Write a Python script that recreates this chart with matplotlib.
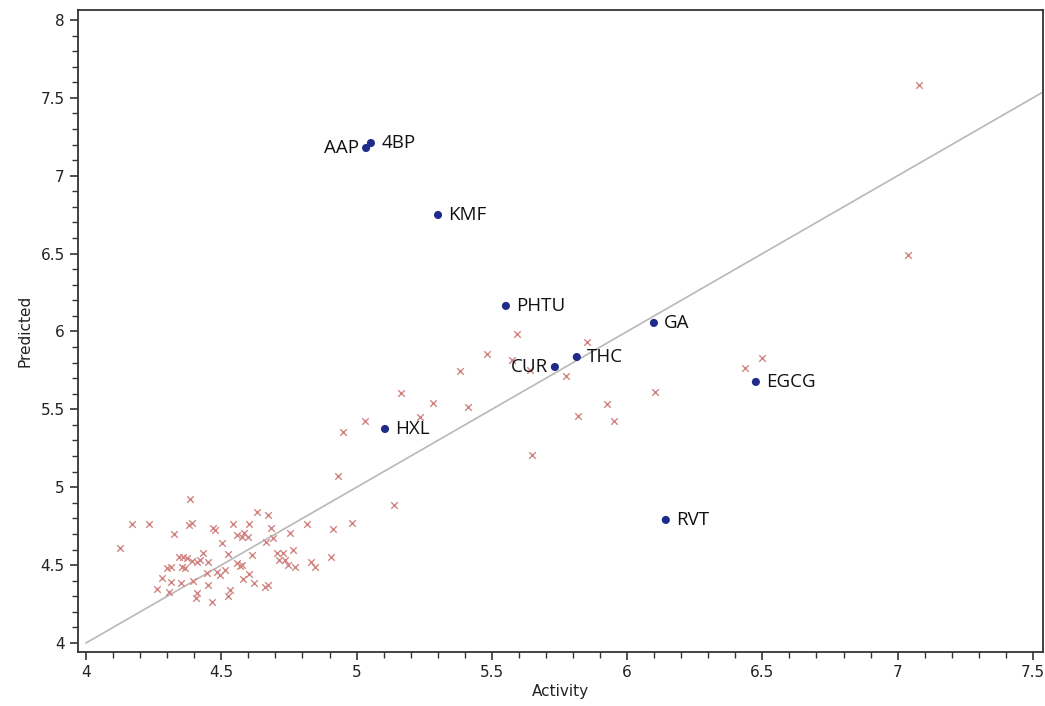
import matplotlib
matplotlib.use("Agg")
import matplotlib.pyplot as plt
from matplotlib.ticker import MultipleLocator

# Labelled compounds (blue dots)
names = ["AAP", "4BP", "KMF", "PHTU", "CUR", "THC", "GA", "EGCG", "HXL", "RVT"]
name_activity = [5.035, 5.053, 5.301, 5.552, 5.733, 5.814, 6.099, 6.476, 5.105, 6.143]
name_predicted = [7.178, 7.210, 6.748, 6.164, 5.772, 5.836, 6.055, 5.676, 5.374, 4.790]
label_side = ["left", "right", "right", "right", "left", "right", "right", "right", "right", "right"]

# Training set (red crosses)
train_activity = [
    4.384, 4.170, 4.233, 4.392, 4.381, 4.325, 4.126, 4.469, 4.477, 4.543,
    4.602, 4.632, 4.673, 4.684, 4.817, 4.913, 4.754, 4.558, 4.576, 4.599,
    4.584, 4.503, 4.665, 4.691, 4.765, 4.432, 4.525, 4.613, 4.706, 4.728,
    4.713, 4.735, 4.746, 4.772, 4.905, 4.831, 4.846, 4.344, 4.358, 4.373,
    4.355, 4.366, 4.299, 4.314, 4.392, 4.410, 4.421, 4.451, 4.447, 4.484,
    4.495, 4.514, 4.558, 4.569, 4.576, 4.281, 4.314, 4.351, 4.395, 4.580,
    4.602, 4.621, 4.451, 4.262, 4.307, 4.410, 4.407, 4.532, 4.525, 4.466,
    4.661, 4.673, 4.931, 5.138, 4.983, 4.950, 5.031, 5.234, 5.164, 5.282,
    5.412, 5.382, 5.482, 5.593, 5.574, 5.641, 5.851, 5.774, 5.925, 5.818,
    5.951, 5.648, 6.103, 6.435, 6.498, 7.078, 7.038,
]
train_predicted = [
    4.925, 4.764, 4.764, 4.770, 4.758, 4.700, 4.610, 4.738, 4.726, 4.764,
    4.764, 4.841, 4.822, 4.738, 4.764, 4.732, 4.706, 4.693, 4.681, 4.681,
    4.706, 4.642, 4.648, 4.674, 4.597, 4.578, 4.571, 4.565, 4.578, 4.578,
    4.533, 4.533, 4.501, 4.488, 4.552, 4.520, 4.488, 4.552, 4.552, 4.546,
    4.488, 4.482, 4.482, 4.488, 4.526, 4.520, 4.533, 4.520, 4.449, 4.456,
    4.437, 4.469, 4.514, 4.494, 4.501, 4.417, 4.392, 4.385, 4.398, 4.411,
    4.443, 4.385, 4.372, 4.347, 4.327, 4.321, 4.289, 4.340, 4.302, 4.263,
    4.360, 4.372, 5.072, 4.886, 4.770, 5.355, 5.425, 5.451, 5.605, 5.541,
    5.515, 5.746, 5.856, 5.984, 5.817, 5.753, 5.933, 5.714, 5.534, 5.457,
    5.425, 5.207, 5.612, 5.766, 5.830, 7.583, 6.491,
]

# Identity line
line_x = [4.0, 7.6]
line_y = [4.0, 7.6]

fig = plt.figure(figsize=(10.45, 7.06), dpi=100)
ax = fig.add_axes([0.0746, 0.0765, 0.9234, 0.9093])

ax.plot(line_x, line_y, color="#b8b8b8", lw=1.2, zorder=1)
ax.scatter(train_activity, train_predicted, marker="x", s=22, linewidths=1.0,
           color="#d08582", zorder=2)
ax.scatter(name_activity, name_predicted, marker="o", s=34, color="#1f2b8a",
           edgecolors="none", zorder=3)
for n, xv, yv, side in zip(names, name_activity, name_predicted, label_side):
    off = 7.5 if side == "right" else -5
    ax.annotate(n, (xv, yv), xytext=(off, 0), textcoords="offset points",
                ha="left" if side == "right" else "right", va="center",
                fontsize=13.5, family="Open Sans", color="#111111", zorder=4)

ax.set_xlim(3.97, 7.537)
ax.set_ylim(3.942, 8.064)
ax.xaxis.set_major_locator(MultipleLocator(0.5))
ax.xaxis.set_minor_locator(MultipleLocator(0.1))
ax.yaxis.set_major_locator(MultipleLocator(0.5))
ax.yaxis.set_minor_locator(MultipleLocator(0.1))
ax.xaxis.set_major_formatter(plt.FuncFormatter(lambda v, p: f"{v:g}"))
ax.yaxis.set_major_formatter(plt.FuncFormatter(lambda v, p: f"{v:g}"))
ax.tick_params(which="major", length=6, width=1.2, color="#333333", labelsize=11,
               labelcolor="#222222")
ax.tick_params(which="minor", length=4, width=1.0, color="#333333")
for s in ax.spines.values():
    s.set_color("#333333")
    s.set_linewidth(1.3)

ax.set_xlabel("Activity", fontsize=11, labelpad=3, color="#222222")
ax.set_ylabel("Predicted", fontsize=11, labelpad=6, color="#222222")

fig.savefig("out.png", dpi=100)
